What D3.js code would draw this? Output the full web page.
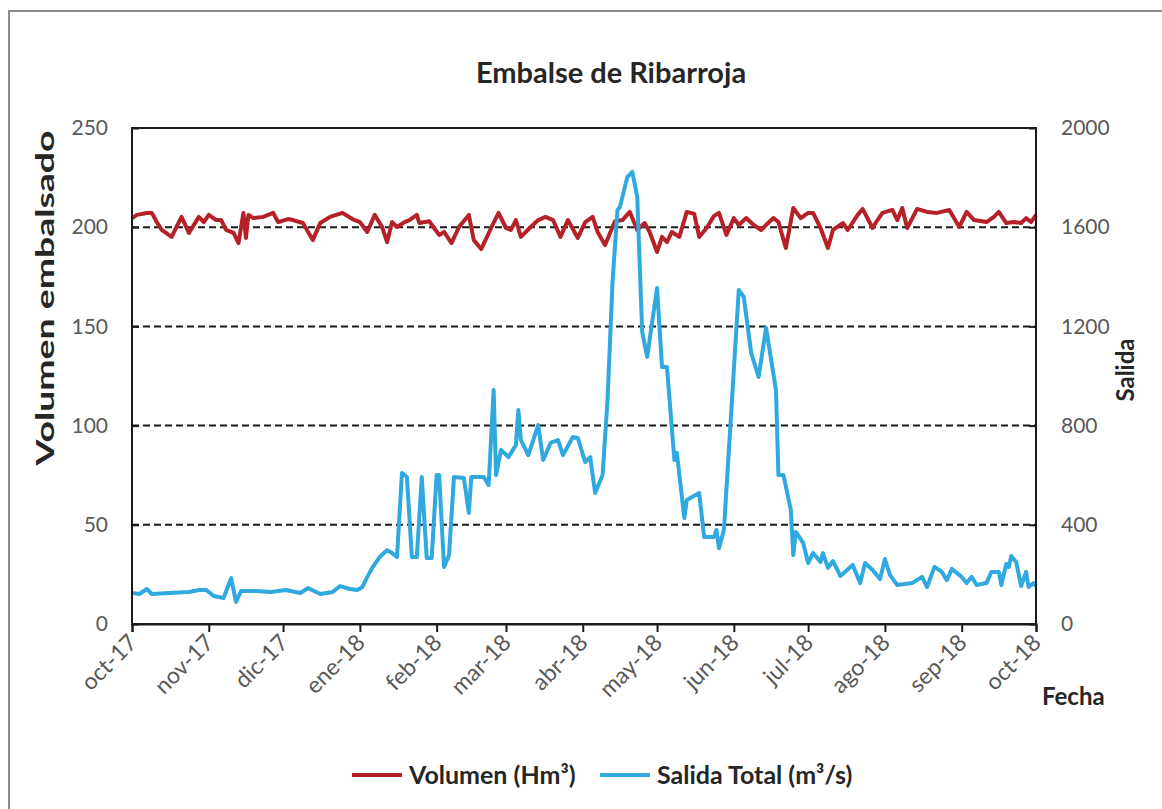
<!DOCTYPE html>
<html>
<head>
<meta charset="utf-8">
<script src="https://cdn.jsdelivr.net/npm/d3@7"></script>
<style>
  body { margin: 0; background: #fff; }
  text { font-family: Lato, "Open Sans", sans-serif; }
  .tick text { fill: #595959; }
  .labeltext { font-weight: bold; fill: #262626; }
</style>
</head>
<body>
<script>
// days since 1 Oct 2017 for each reading, and the readings
var salidaDays = [0,3,6,8,15,23,27,30,33,37,40,41,42,44,50,56,62,68,71,76,81,84,88,91,93,95,97,100,103,105,107,
  109,111,113,115,117,119,121,123,124,126,128,130,134,136,137,142,144,146,147,149,152,155,156,157,160,164,166,169,
  172,174,178,180,183,185,187,190,192,194,196,197,200,202,204,206,208,212,214,216,219,220,223,224,229,231,235,236,
  237,239,241,245,247,250,253,256,260,261,263,266,267,268,271,273,275,278,279,281,283,286,291,294,296,299,302,304,
  306,309,315,319,321,324,327,329,331,335,337,339,341,345,347,350,351,353,354,355,357,359,361,362,364,365];
var salida = [125,121,141,121,125,129,137,137,113,105,185,137,89,133,133,129,137,125,145,121,129,153,141,137,149,190,226,270,298,286,270,
  609,593,270,270,593,266,266,601,601,230,278,593,589,448,593,593,560,944,601,702,673,722,863,742,681,802,661,730,
  742,681,754,750,653,673,528,601,903,1375,1669,1681,1802,1823,1722,1177,1077,1355,1036,1036,661,690,427,500,528,351,351,379,
  306,379,702,1347,1319,1093,996,1194,944,601,601,460,278,371,327,246,286,250,286,226,254,194,238,165,246,218,181,262,
  198,157,165,190,149,230,210,177,222,190,165,190,157,165,210,210,157,242,230,274,250,153,210,149,165,153];

var volumenDays = [0,2,6,8,10,12,16,20,23,27,29,31,34,36,38,41,43,45,46,47,49,53,57,59,63,65,69,73,76,80,85,89,92,95,98,
  101,103,105,107,110,112,115,116,120,124,126,129,132,136,138,141,145,148,151,153,155,157,161,164,167,170,173,176,180,
  183,186,188,191,195,198,201,204,207,209,212,214,216,218,221,224,227,229,232,235,237,240,243,245,248,251,254,256,259,
  261,264,267,270,273,275,278,281,283,287,289,293,295,299,301,303,307,309,311,313,317,321,325,330,334,337,340,345,348,
  350,353,356,359,361,363,365];
var volumen = [204.6,206.2,207.2,207.2,202.6,198.6,195.1,205.2,197.1,205.2,202.6,206.2,203.6,203.6,198.6,197.1,192.0,207.2,194.6,206.2,
  204.6,205.2,207.2,202.6,204.1,203.6,202.1,193.5,202.1,205.2,207.2,204.1,202.6,197.6,206.2,
  200.1,192.5,202.6,200.1,202.6,203.6,206.2,202.1,203.0,196.1,197.6,192.0,200.1,206.2,193.5,189.0,199.6,207.2,199.6,198.6,
  203.6,195.1,200.1,203.6,205.2,203.6,195.1,203.6,194.6,
  202.6,205.2,197.6,191.0,203.0,203.6,207.7,198.6,202.1,197.6,187.5,195.1,192.5,197.6,195.1,207.7,206.7,195.1,199.6,205.7,
  207.2,196.1,204.6,201.1,204.6,201.1,198.6,201.1,204.6,
  202.6,189.5,209.7,204.6,207.2,207.2,199.6,189.5,198.6,202.1,198.6,206.2,209.2,199.6,203.6,207.2,208.7,203.6,209.7,199.6,
  209.2,207.7,207.2,208.7,200.1,207.7,203.6,202.6,205.2,
  207.7,202.1,202.6,202.1,204.6,202.6,206.2];

var monthLabels = ["oct-17","nov-17","dic-17","ene-18","feb-18","mar-18","abr-18","may-18",
  "jun-18","jul-18","ago-18","sep-18","oct-18"];
var leftTicks = [0, 50, 100, 150, 200, 250];
var rightTicks = [0, 400, 800, 1200, 1600, 2000];
var gridValues = [50, 100, 150, 200];

var margin = {top: 128, right: 126, bottom: 185, left: 132},
    width = 1162 - margin.left - margin.right,
    height = 809 - margin.top - margin.bottom;

var start = new Date(Date.UTC(2017, 9, 1)),
    end = new Date(Date.UTC(2018, 9, 1));

var svg = d3.select("body").append("svg")
    .attr("width", 1162)
    .attr("height", 809);

// outer chart frame
svg.append("rect")
    .attr("x", 9).attr("y", 11)
    .attr("width", 1170).attr("height", 820)
    .attr("fill", "none")
    .attr("stroke", "#8c8c8c")
    .attr("stroke-width", 2);

svg.append("text")
    .attr("x", 611).attr("y", 83)
    .style("text-anchor", "middle")
    .style("font-size", "29px")
    .attr("class", "labeltext")
    .text("Embalse de Ribarroja");

var g = svg.append("g")
    .attr("transform", "translate(" + margin.left + "," + margin.top + ")");

var x = d3.scaleUtc().domain([start, end]).range([0, width]);
var yL = d3.scaleLinear().domain([0, 250]).range([height, 0]);
var yR = d3.scaleLinear().domain([0, 2000]).range([height, 0]);

function dayDate(d) { return d3.utcDay.offset(start, d); }

// dashed gridlines
g.selectAll(".grid")
    .data(gridValues)
  .enter().append("line")
    .attr("x1", 0).attr("x2", width)
    .attr("y1", function(d) { return yL(d); })
    .attr("y2", function(d) { return yL(d); })
    .attr("stroke", "#1a1a1a")
    .attr("stroke-width", 2)
    .attr("stroke-dasharray", "7,4");

// lines
var volLine = d3.line()
    .x(function(d, i) { return x(dayDate(volumenDays[i])); })
    .y(function(d) { return yL(d); });
var salLine = d3.line()
    .x(function(d, i) { return x(dayDate(salidaDays[i])); })
    .y(function(d) { return yR(d); });

g.append("path")
    .datum(volumen)
    .attr("d", volLine)
    .attr("fill", "none")
    .attr("stroke", "#b52126")
    .attr("stroke-width", 4)
    .attr("stroke-linejoin", "round");

g.append("path")
    .datum(salida)
    .attr("d", salLine)
    .attr("fill", "none")
    .attr("stroke", "#2fa9df")
    .attr("stroke-width", 4)
    .attr("stroke-linejoin", "round");

// plot frame
g.append("rect")
    .attr("width", width).attr("height", height)
    .attr("fill", "none")
    .attr("stroke", "#1a1a1a")
    .attr("stroke-width", 2);

// axes
var months = d3.utcMonth.range(start, d3.utcDay.offset(end, 1));

var xAxis = g.append("g")
    .attr("transform", "translate(0," + height + ")")
    .call(d3.axisBottom(x).tickValues(months).tickSize(8)
      .tickFormat(function(d, i) { return monthLabels[i]; }));
xAxis.select(".domain").attr("stroke", "#1a1a1a").attr("stroke-width", 2);
xAxis.selectAll(".tick line").attr("stroke", "#1a1a1a").attr("stroke-width", 2);
xAxis.selectAll(".tick text")
    .style("font-size", "23px")
    .style("text-anchor", "end")
    .attr("dy", null).attr("y", 0)
    .attr("transform", "translate(6,20) rotate(-45)");

var yAxisL = g.append("g")
    .call(d3.axisLeft(yL).tickValues(leftTicks).tickSize(-7).tickPadding(24));
yAxisL.select(".domain").remove();
yAxisL.selectAll(".tick line").attr("stroke", "#1a1a1a").attr("stroke-width", 2);
yAxisL.selectAll(".tick text").style("font-size", "21px");

var yAxisR = g.append("g")
    .attr("transform", "translate(" + width + ",0)")
    .call(d3.axisRight(yR).tickValues(rightTicks).tickSize(-7).tickPadding(25)
      .tickFormat(d3.format("d")));
yAxisR.select(".domain").remove();
yAxisR.selectAll(".tick line").attr("stroke", "#1a1a1a").attr("stroke-width", 2);
yAxisR.selectAll(".tick text").style("font-size", "21px");

// axis titles
svg.append("text")
    .attr("transform", "translate(54,298) rotate(-90)")
    .style("text-anchor", "middle")
    .style("font-size", "24px")
    .attr("textLength", 335)
    .attr("lengthAdjust", "spacingAndGlyphs")
    .attr("class", "labeltext")
    .text("Volumen embalsado");

svg.append("text")
    .attr("transform", "translate(1134,370) rotate(-90)")
    .style("text-anchor", "middle")
    .style("font-size", "24px")
    .attr("class", "labeltext")
    .text("Salida");

svg.append("text")
    .attr("x", 1042).attr("y", 705)
    .style("font-size", "24px")
    .attr("class", "labeltext")
    .text("Fecha");

// legend
var legend = [
  {label: "Volumen (Hm³)", color: "#b52126", x: 352},
  {label: "Salida Total (m³/s)", color: "#2fa9df", x: 600}
];
var lg = svg.selectAll(".legend")
    .data(legend)
  .enter().append("g")
    .attr("transform", function(d) { return "translate(" + d.x + ",775)"; });
lg.append("line")
    .attr("x1", 0).attr("x2", 50)
    .attr("stroke", function(d) { return d.color; })
    .attr("stroke-width", 4);
lg.append("text")
    .attr("x", 57).attr("dy", "0.35em")
    .style("font-size", "25px")
    .attr("class", "labeltext")
    .text(function(d) { return d.label; });
</script>
</body>
</html>
